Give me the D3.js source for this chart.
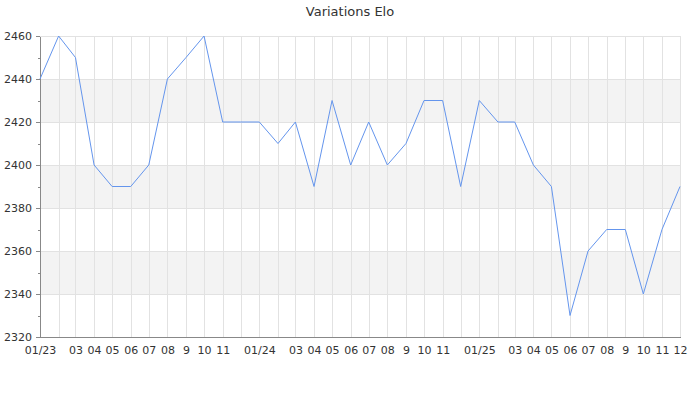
<!DOCTYPE html>
<meta charset="utf-8">
<style>
body { margin: 0; background: #fff; }
text { font-family: "DejaVu Sans", sans-serif; fill: #333; }
.grid line { stroke: #e2e2e2; shape-rendering: crispEdges; }
.band { fill: #f3f3f3; }
.axis path, .axis line { stroke: #888; shape-rendering: crispEdges; }
.line { fill: none; stroke: #6495ed; stroke-width: 1; }
</style>
<script src="https://d3js.org/d3.v7.min.js"></script>
<svg width="700" height="400"></svg>
<script>

var months = ["2023-01","2023-02","2023-03","2023-04","2023-05","2023-06","2023-07","2023-08","2023-09","2023-10","2023-11","2023-12",
              "2024-01","2024-02","2024-03","2024-04","2024-05","2024-06","2024-07","2024-08","2024-09","2024-10","2024-11","2024-12",
              "2025-01","2025-02","2025-03","2025-04","2025-05","2025-06","2025-07","2025-08","2025-09","2025-10","2025-11","2025-12"];

var elo = [2440,2460,2450,2400,2390,2390,2400,2440,2450,2460,2420,2420,
           2420,2410,2420,2390,2430,2400,2420,2400,2410,2430,2430,2390,
           2430,2420,2420,2400,2390,2330,2360,2370,2370,2340,2370,2390];

var xLabels = ["01/23","","03","04","05","06","07","08","9","10","11","",
               "01/24","","03","04","05","06","07","08","9","10","11","",
               "01/25","","03","04","05","06","07","08","9","10","11","12"];

var yTicks = [2320,2340,2360,2380,2400,2420,2440,2460];

var parse = d3.timeParse("%Y-%m");
var dates = months.map(parse);
var data = dates.map(function(d, i) { return {date: d, value: elo[i]}; });

var svg = d3.select("svg"),
    margin = {top: 36, right: 20, bottom: 63, left: 40},
    width = 700 - margin.left - margin.right,
    height = 400 - margin.top - margin.bottom;

var x = d3.scaleTime().domain(d3.extent(dates)).range([0, width]),
    y = d3.scaleLinear().domain([2320, 2460]).range([height, 0]);

svg.append("text")
    .attr("x", 350)
    .attr("y", 16)
    .attr("text-anchor", "middle")
    .style("font-size", "13px")
    .text("Variations Elo");

var g = svg.append("g")
    .attr("transform", "translate(" + margin.left + "," + margin.top + ")");

// alternating bands
var bands = yTicks.slice(0, -1).filter(function(d, i) { return i % 2 == 1; });
g.selectAll(".band")
  .data(bands)
  .enter().append("rect")
    .attr("class", "band")
    .attr("x", 0)
    .attr("width", width)
    .attr("y", function(d) { return y(d + 20); })
    .attr("height", function(d) { return y(d) - y(d + 20); });

// grid
var grid = g.append("g").attr("class", "grid");
grid.selectAll(".gy")
  .data(yTicks)
  .enter().append("line")
    .attr("x1", 0).attr("x2", width)
    .attr("y1", function(d) { return Math.round(y(d)) + 0.5; })
    .attr("y2", function(d) { return Math.round(y(d)) + 0.5; });
grid.selectAll(".gx")
  .data(dates)
  .enter().append("line")
    .attr("x1", function(d) { return Math.round(x(d)) + 0.5; })
    .attr("x2", function(d) { return Math.round(x(d)) + 0.5; })
    .attr("y1", 0).attr("y2", height);

// y axis with minor ticks
g.append("g")
    .attr("class", "axis")
    .call(d3.axisLeft(y).tickValues(d3.range(2330, 2460, 20)).tickSize(2).tickFormat(""))
    .select(".domain").remove();
g.append("g")
    .attr("class", "axis")
    .call(d3.axisLeft(y).tickValues(yTicks).tickSize(4).tickSizeOuter(0).tickPadding(4).tickFormat(d3.format("d")))
    .selectAll("text").style("font-size", "11px");

// x axis
var xa = g.append("g")
    .attr("class", "axis")
    .attr("transform", "translate(0," + height + ")")
    .call(d3.axisBottom(x).tickValues(dates).tickSize(0).tickSizeOuter(0).tickPadding(9)
      .tickFormat(function(d, i) { return xLabels[i]; }));
xa.selectAll("text").style("font-size", "11px");

var line = d3.line()
    .x(function(d) { return x(d.date); })
    .y(function(d) { return y(d.value); });

g.append("path")
    .datum(data)
    .attr("class", "line")
    .attr("d", line);

</script>
